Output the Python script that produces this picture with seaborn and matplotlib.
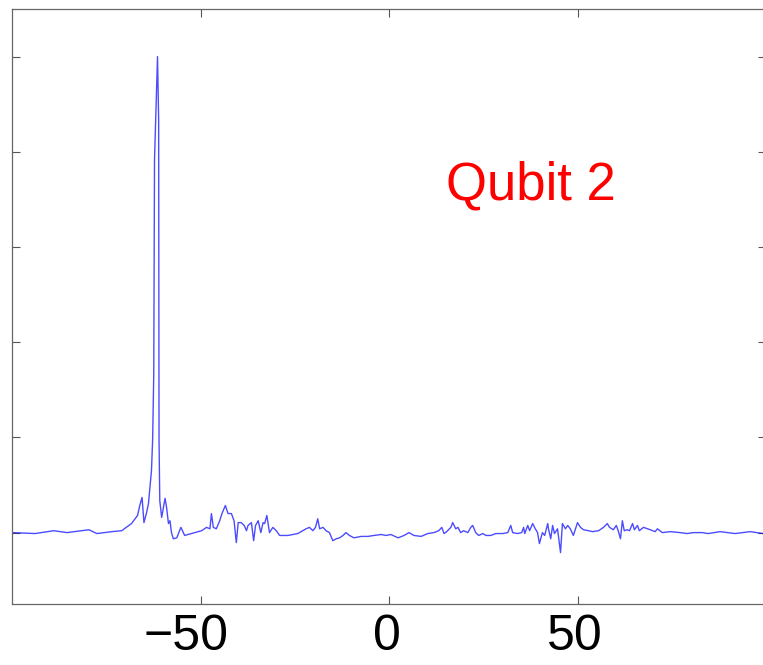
import matplotlib
matplotlib.use("Agg")
import matplotlib.pyplot as plt
import matplotlib.transforms as mtransforms
import seaborn as sns
import pandas as pd

# Detuning axis and normalised spectral response of qubit 2
detuning = [
    -100.0, -93.9, -88.9, -85.4, -79.6, -77.5, -73.5, -70.9, -68.3, -66.7,
    -66.1, -65.5, -65.0, -64.3, -63.8, -63.5, -63.0, -62.7, -62.4, -62.2,
    -61.4, -61.1, -61.0, -60.8, -60.3, -59.4, -59.0, -58.5, -58.1, -57.7,
    -57.2, -56.3, -55.2, -54.2, -52.4, -49.7, -48.4, -47.5, -47.1, -46.6,
    -45.8, -44.9, -44.3, -43.4, -42.7, -41.8, -41.1, -40.5, -40.0, -39.2,
    -38.4, -37.8, -37.4, -36.5, -35.9, -35.4, -34.7, -34.0, -33.4, -33.0,
    -32.4, -31.7, -30.8, -29.9, -29.0, -26.8, -24.2, -22.0, -21.1, -20.2,
    -19.5, -18.9, -18.4, -17.5, -16.7, -15.8, -14.9, -14.0, -13.1, -12.2,
    -11.4, -10.5, -9.3, -7.4, -5.6, -4.0, -2.1, -0.8, 0.5, 2.4,
    4.0, 5.3, 6.6, 8.5, 10.3, 11.9, 13.2, 14.0, 14.6, 15.3,
    16.4, 16.9, 17.7, 18.3, 19.0, 19.8, 20.9, 21.7, 22.2, 23.0,
    23.8, 24.9, 25.7, 27.0, 28.3, 30.2, 31.5, 32.3, 32.8, 34.1,
    35.2, 35.7, 36.0, 36.8, 37.3, 38.1, 38.6, 39.4, 39.9, 40.7,
    41.3, 42.1, 42.3, 42.9, 43.4, 43.9, 44.7, 45.5, 46.0, 46.8,
    47.4, 48.1, 48.9, 50.0, 50.8, 51.6, 52.9, 54.0, 55.6, 56.9,
    57.9, 58.5, 59.5, 60.3, 60.8, 61.4, 61.9, 62.4, 63.2, 63.8,
    64.6, 65.1, 65.9, 66.4, 67.5, 69.3, 70.6, 71.2, 72.5, 74.6,
    77.2, 79.1, 80.7, 83.1, 84.7, 87.8, 91.8, 95.8, 99.2, 100.0,
]
response = [
    0.000, -0.002, 0.004, 0.000, 0.006, -0.002, 0.002, 0.004, 0.019, 0.036,
    0.057, 0.074, 0.021, 0.042, 0.061, 0.088, 0.131, 0.194, 0.331, 0.783,
    1.000, 0.867, 0.194, 0.067, 0.032, 0.072, 0.053, 0.019, 0.025, 0.000,
    -0.013, -0.011, 0.011, -0.006, -0.002, 0.004, 0.011, 0.008, 0.040, 0.011,
    0.008, 0.025, 0.040, 0.057, 0.040, 0.040, 0.025, -0.021, 0.021, 0.021,
    0.015, 0.004, 0.015, 0.021, -0.017, 0.015, 0.025, 0.000, 0.021, 0.019,
    0.036, 0.000, 0.011, 0.004, -0.006, -0.006, -0.002, 0.008, 0.011, 0.004,
    0.011, 0.029, 0.008, 0.011, 0.004, 0.000, -0.017, -0.013, -0.011, -0.006,
    0.000, -0.006, -0.011, -0.008, -0.008, -0.006, -0.004, -0.006, -0.004, -0.011,
    -0.006, 0.000, -0.006, -0.008, -0.002, 0.000, 0.004, 0.011, -0.002, 0.002,
    0.011, 0.021, 0.008, 0.011, 0.000, 0.004, 0.000, 0.011, 0.015, 0.000,
    -0.006, -0.002, -0.006, -0.006, -0.002, -0.002, 0.000, 0.015, 0.000, -0.002,
    0.000, 0.011, -0.002, 0.015, 0.004, 0.019, 0.011, 0.000, -0.023, 0.000,
    -0.006, 0.019, 0.008, -0.013, 0.015, -0.002, 0.008, -0.042, 0.019, 0.008,
    0.015, 0.008, -0.006, 0.021, 0.011, 0.006, 0.004, 0.002, 0.004, 0.011,
    0.019, 0.011, 0.006, 0.015, 0.004, -0.013, 0.025, 0.004, 0.006, 0.004,
    0.019, 0.006, 0.015, 0.004, 0.011, 0.006, 0.002, 0.008, 0.000, 0.002,
    0.000, -0.002, 0.000, 0.000, -0.002, 0.002, -0.002, 0.002, -0.002, 0.000,
]

x_ticks = [-50, 0, 50]
y_ticks = [0.0, 0.2, 0.4, 0.6, 0.8, 1.0]
label_text = "Qubit 2"

df = pd.DataFrame({"detuning": detuning, "response": response})

sns.set_style("white")
plt.rcParams["font.family"] = ["Liberation Sans", "DejaVu Sans"]

fig = plt.figure(figsize=(7.63, 6.65), dpi=100)
ax = fig.add_axes([12 / 763, 61 / 665, 754 / 763, 595 / 665])

sns.lineplot(data=df, x="detuning", y="response", ax=ax, estimator=None,
             sort=False, color="blue", alpha=0.7, linewidth=1.0)

ax.set_xlim(-100, 100)
ax.set_ylim(-0.15, 1.1)
ax.set_xticks(x_ticks)
ax.set_yticks(y_ticks)
ax.set_yticklabels([])
ax.set_xlabel("")
ax.set_ylabel("")

ax.tick_params(axis="both", which="major", direction="in", length=5.5,
               width=0.8, color="#555555", left=True, bottom=True,
               top=True, right=True, labelsize=36, pad=7,
               labelcolor="black")
for spine in ax.spines.values():
    spine.set_color("#666666")
    spine.set_linewidth(0.9)
    spine.set_visible(True)

# nudge the x tick labels slightly left (the negative one a bit more)
for lbl, shift in zip(ax.get_xticklabels(), [-14, -2, -3]):
    offset = mtransforms.ScaledTranslation(shift / 100, 0, fig.dpi_scale_trans)
    lbl.set_transform(lbl.get_transform() + offset)

ax.text(0.5756, 0.68, label_text, transform=ax.transAxes, color="red",
        fontsize=38, ha="left", va="baseline")

fig.savefig("out.png", dpi=100)
